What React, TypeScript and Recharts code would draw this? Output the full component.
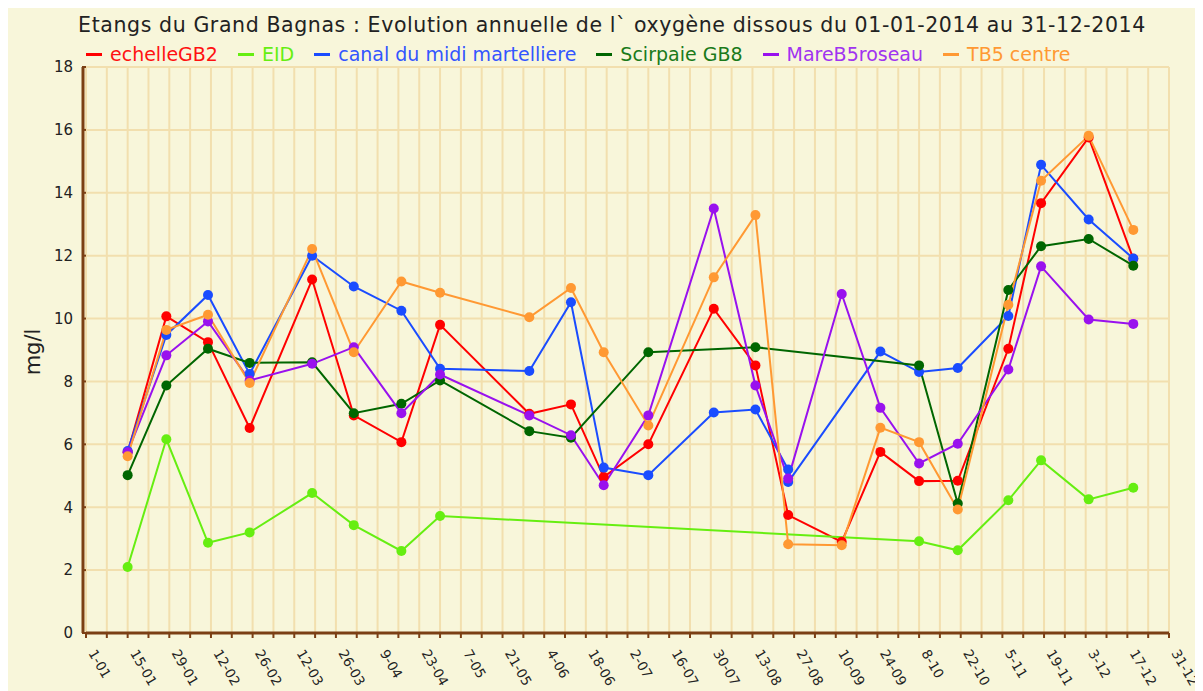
import React from 'react';
import { LineChart, Line, XAxis, YAxis, CartesianGrid } from 'recharts';

const FONT = '"DejaVu Sans", Verdana, sans-serif';
const BROWN = '#7B3F14';
const GRID = '#F2DFAE';
const BG = '#F8F6DA';

// measurement dates (day of year, 0 = 1 Jan 2014)
const days = [14, 27, 41, 55, 76, 90, 106, 119, 149, 163, 174, 189, 211, 225, 236, 254, 267, 280, 293, 310, 321, 337, 352];

const echelleGB2 = [5.75, 10.07, 9.25, 6.52, 11.24, 6.92, 6.07, 9.8, 6.97, 7.27, 4.96, 6.0, 10.31, 8.51, 3.75, 2.9, 5.76, 4.83, 4.84, 9.04, 13.67, 15.76, 11.9];
const eid = [2.1, 6.16, 2.87, 3.2, 4.45, 3.43, 2.61, 3.72, null, null, null, null, null, null, null, null, null, 2.92, 2.63, 4.22, 5.49, 4.25, 4.62];
const canal = [5.79, 9.48, 10.75, 8.24, 12.0, 11.02, 10.25, 8.4, 8.33, 10.52, 5.26, 5.02, 7.01, 7.11, 5.2, null, 8.95, 8.3, 8.43, 10.08, 14.89, 13.15, 11.91];
const canalExtraDay = 236;
const canalExtraValue = 4.8;
const scirpaie = [5.02, 7.87, 9.04, 8.59, 8.61, 6.99, 7.29, 8.03, 6.42, 6.21, null, 8.93, null, 9.09, null, null, null, 8.51, 4.12, 10.91, 12.3, 12.53, 11.68];
const mare = [5.75, 8.83, 9.91, 8.03, 8.56, 9.09, 6.99, 8.22, 6.92, 6.29, 4.7, 6.92, 13.5, 7.87, 4.91, 10.78, 7.16, 5.39, 6.02, 8.38, 11.66, 9.97, 9.83];
const tb5 = [5.62, 9.64, 10.12, 7.95, 12.21, 8.93, 11.18, 10.82, 10.04, 10.97, 8.93, 6.6, 11.31, 13.29, 2.82, 2.79, 6.53, 6.07, 3.93, 10.44, 14.38, 15.81, 12.82];

const tickLabels = ['1-01', '15-01', '29-01', '12-02', '26-02', '12-03', '26-03', '9-04', '23-04', '7-05', '21-05', '4-06', '18-06', '2-07', '16-07', '30-07', '13-08', '27-08', '10-09', '24-09', '8-10', '22-10', '5-11', '19-11', '3-12', '17-12', '31-12'];
const yTicks = [0, 2, 4, 6, 8, 10, 12, 14, 16, 18];

const seriesDefs = [
  { key: 'echelleGB2', name: 'echelleGB2', color: '#FF0000', text: '#FF1111' },
  { key: 'eid', name: 'EID', color: '#66EE11', text: '#66EE11' },
  { key: 'canal', name: 'canal du midi martelliere', color: '#1A4CFF', text: '#3355FF' },
  { key: 'scirpaie', name: 'Scirpaie GB8', color: '#006600', text: '#1A7A1A' },
  { key: 'mare', name: 'MareB5roseau', color: '#9911EE', text: '#A033F0' },
  { key: 'tb5', name: 'TB5 centre', color: '#FF9933', text: '#FF9933' },
];

const rows: any[] = [];
days.forEach((d, i) => {
  rows.push({ day: d, echelleGB2: echelleGB2[i], eid: eid[i], canal: canal[i], scirpaie: scirpaie[i], mare: mare[i], tb5: tb5[i] });
  if (d === canalExtraDay) rows.push({ day: canalExtraDay, canal: canalExtraValue });
});

const allTicks = Array.from({ length: tickLabels.length * 2 - 1 }, (_, i) => i * 7);

const XTick = (props: any) => {
  const { x, y, payload } = props;
  const v = payload.value;
  if (v % 14 !== 0) return null;
  const label = tickLabels[v / 14];
  const ax = x + 2;
  const ay = y + 13;
  return (
    <text x={ax} y={ay} transform={`rotate(60, ${ax}, ${ay})`} textAnchor="start" fontSize={13.5} fontFamily={FONT} fill="#222">
      {label}
    </text>
  );
};

const YLabel = () => (
  <text x={25} y={344} transform="rotate(-90, 25, 344)" textAnchor="middle" dominantBaseline="central" fontSize={21} fontFamily={FONT} fill="#222">
    mg/l
  </text>
);

export default function App() {
  return (
    <div style={{ position: 'relative', width: 1195, height: 683, background: BG, fontFamily: FONT }}>
      <div style={{ position: 'absolute', left: 13, width: 1182, top: 7, textAlign: 'center', fontSize: 20.5, lineHeight: '20px', letterSpacing: 0.6, color: '#222', whiteSpace: 'nowrap' }}>
        Etangs du Grand Bagnas : Evolution annuelle de l` oxygène dissous du 01-01-2014 au 31-12-2014
      </div>
      <div style={{ position: 'absolute', left: 78, top: 37, display: 'flex', alignItems: 'center', fontSize: 19, lineHeight: '18px', whiteSpace: 'nowrap' }}>
        {seriesDefs.map((s) => (
          <div key={s.key} style={{ display: 'flex', alignItems: 'center', marginRight: 20 }}>
            <div style={{ width: 16, height: 3, background: s.color, marginRight: 8 }} />
            <span style={{ color: s.text }}>{s.name}</span>
          </div>
        ))}
      </div>
      <LineChart width={1195} height={683} data={rows} margin={{ top: 59, right: 34, left: 0, bottom: 0 }}>
        <CartesianGrid stroke={GRID} strokeWidth={2} />
        <XAxis
          dataKey="day"
          type="number"
          domain={[0, 364]}
          ticks={allTicks}
          interval={0}
          height={58}
          tickSize={5}
          axisLine={{ stroke: BROWN, strokeWidth: 3 }}
          tickLine={{ stroke: BROWN, strokeWidth: 2 }}
          tick={<XTick />}
          allowDataOverflow
        />
        <YAxis
          type="number"
          domain={[0, 18]}
          ticks={yTicks}
          interval={0}
          width={78}
          tickSize={4}
          tickMargin={9}
          axisLine={{ stroke: BROWN, strokeWidth: 3, transform: 'translate(-3, 0)' }}
          tickLine={{ stroke: BROWN, strokeWidth: 2 }}
          tick={{ fill: '#222', fontSize: 15, fontFamily: FONT }}
          label={<YLabel />}
        />
        {seriesDefs.map((s) => (
          <Line
            key={s.key}
            type="linear"
            dataKey={s.key}
            name={s.name}
            stroke={s.color}
            strokeWidth={2}
            dot={{ r: 5, fill: s.color, stroke: s.color, strokeWidth: 0 }}
            activeDot={false}
            connectNulls
            isAnimationActive={false}
          />
        ))}
      </LineChart>
    </div>
  );
}
